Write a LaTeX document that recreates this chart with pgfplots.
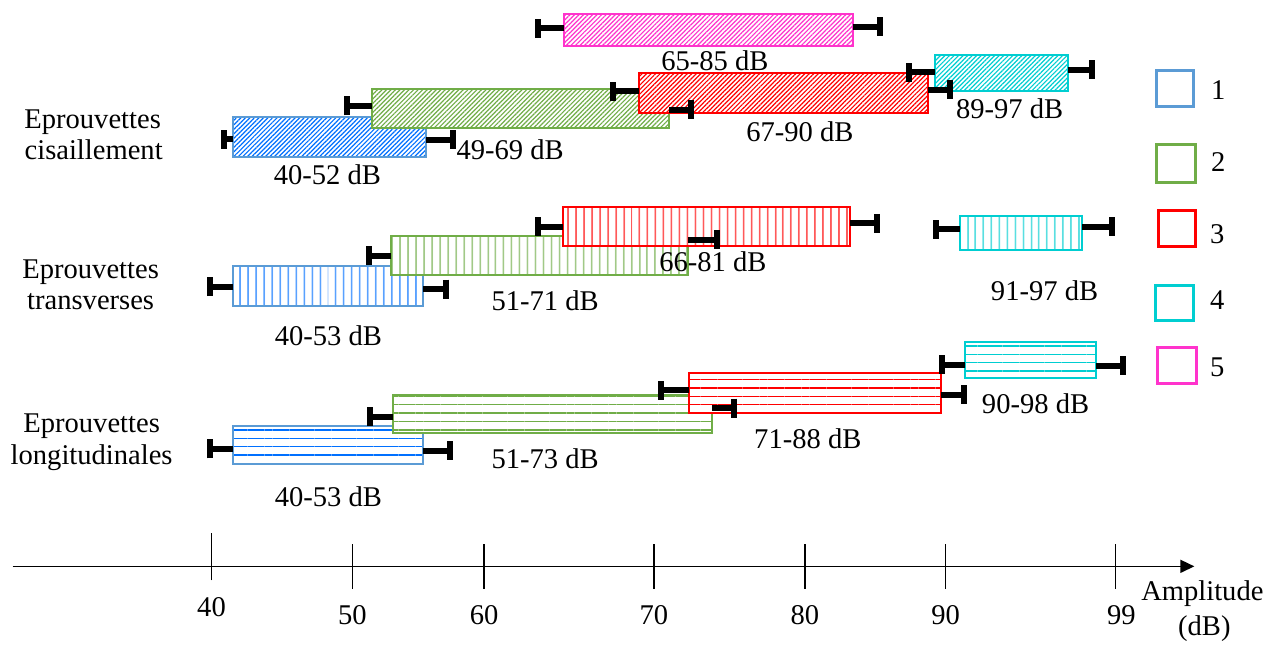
\documentclass[border=0pt]{standalone}
\usepackage{fontspec}
\setmainfont{Liberation Serif}
\usepackage{pgfplots}
\pgfplotsset{compat=1.18}
\usetikzlibrary{patterns.meta,arrows.meta}
\definecolor{bB}{RGB}{91,155,213}
\definecolor{bP}{RGB}{0,112,255}
\definecolor{gB}{RGB}{112,173,71}
\definecolor{rB}{RGB}{255,0,0}
\definecolor{cB}{RGB}{0,206,209}
\definecolor{pB}{RGB}{255,51,204}
\pgfplotsset{
  diag/.style 2 args={line width=1pt, draw=#1, preaction={fill=white}, pattern={Lines[angle=45,distance=1.6pt,line width=0.6pt]}, pattern color=#2},
  vert/.style 2 args={line width=1pt, draw=#1, preaction={fill=white}, pattern={Lines[angle=90,distance=4pt,line width=0.7pt]}, pattern color=#2},
  horz/.style 2 args={line width=1pt, draw=#1, preaction={fill=white}, pattern={Lines[angle=0,distance=4.2pt,line width=0.7pt]}, pattern color=#2},
  legbox/.style={line width=1.5pt, draw=#1, fill=white},
  ebar/.style={draw=none, mark=none,
    error bars/.cd, x dir=#1, x explicit,
    error bar style={draw=black, line width=3pt},
    error mark=|,
    error mark options={draw=black, line width=3pt, mark size=4.75pt}},
}
\begin{document}
\begin{tikzpicture}[font=\fontsize{14.3}{16}\selectfont]
\begin{axis}[
  scale only axis, width=638.5pt, height=319.5pt,
  xmin=0, xmax=1277, ymin=-72, ymax=567,
  axis x line=middle, axis y line=none, ytick=\empty,
  x axis line style={line width=0.75pt, -{Triangle[length=7pt,width=6.5pt]}, shorten <=6pt, shorten >=41pt},
  xtick={352,484,654,805,946,1116},
  xticklabels={50,60,70,80,90,\hspace{6pt}99},
  extra x ticks={211}, extra x tick labels={40},
  extra x tick style={tick style={yshift=4.75pt}, major tick length=23.5pt, xticklabel style={yshift=4.5pt}},
  major tick length=22.5pt, tick align=center,
  tick style={line width=0.75pt, black},
  xticklabel style={anchor=base, yshift=-18pt, font=\fontsize{14.3}{16}\selectfont},
  clip=false,
]
\path (rel axis cs:0,0) rectangle (rel axis cs:1,1);
% --- Eprouvettes cisaillement ---
\addplot[diag={bB}{bP}] coordinates {(233,450) (426,450) (426,410) (233,410)} -- cycle;
\addplot[diag={gB}{gB}] coordinates {(372,478) (669,478) (669,439) (372,439)} -- cycle;
\addplot[diag={rB}{rB}] coordinates {(639,494) (928,494) (928,454) (639,454)} -- cycle;
\addplot[diag={cB}{cB}] coordinates {(935,512) (1068,512) (1068,476) (935,476)} -- cycle;
\addplot[diag={pB}{pB}] coordinates {(564,553) (853,553) (853,521) (564,521)} -- cycle;
% --- Eprouvettes transverses ---
\addplot[vert={bB}{bP}] coordinates {(233,301) (423,301) (423,261) (233,261)} -- cycle;
\addplot[vert={gB}{gB}] coordinates {(391,331) (688,331) (688,292) (391,292)} -- cycle;
\addplot[vert={rB}{rB}] coordinates {(563,360) (850,360) (850,321) (563,321)} -- cycle;
\addplot[vert={cB}{cB}] coordinates {(960,351) (1083,351) (1083,317) (960,317)} -- cycle;
% --- Eprouvettes longitudinales ---
\addplot[horz={bB}{bP}] coordinates {(233,141) (423,141) (423,102) (233,102)} -- cycle;
\addplot[horz={gB}{gB}] coordinates {(393,172) (712,172) (712,133) (393,133)} -- cycle;
\addplot[horz={rB}{rB}] coordinates {(689,194) (941,194) (941,154) (689,154)} -- cycle;
\addplot[horz={cB}{cB}] coordinates {(965,225) (1097,225) (1097,189) (965,189)} -- cycle;
% --- error bars (left) ---
\addplot[ebar=minus] coordinates {
  (233,427.5) +- (9,0)
  (372,461) +- (25,0)
  (639,475.5) +- (26,0)
  (935,494.5) +- (26,0)
  (564,538.5) +- (26,0)
  (233,280) +- (24,0)
  (391,311) +- (22,0)
  (563,340) +- (25,0)
  (960,337.5) +- (24,0)
  (233,117.5) +- (24,0)
  (393,150) +- (23,0)
  (689,176.5) +- (28,0)
  (965,202) +- (23,0)
};
% --- error bars (right) ---
\addplot[ebar=plus] coordinates {
  (426,427) +- (27,0)
  (669,457) +- (22,0)
  (928,477) +- (22,0)
  (1068,497) +- (25,0)
  (853,540) +- (27,0)
  (423,277.5) +- (23,0)
  (688,327) +- (29,0)
  (850,343.5) +- (27,0)
  (1083,340) +- (30,0)
  (423,115.5) +- (27,0)
  (712,158.5) +- (22,0)
  (941,172) +- (23.5,0)
  (1097,201) +- (27,0)
};
% --- legend boxes ---
\addplot[legbox=bB] coordinates {(1157,496) (1194,496) (1194,460) (1157,460)} -- cycle;
\addplot[legbox=gB] coordinates {(1157,422) (1196,422) (1196,384) (1157,384)} -- cycle;
\addplot[legbox=rB] coordinates {(1159,356) (1196,356) (1196,320) (1159,320)} -- cycle;
\addplot[legbox=cB] coordinates {(1156,281) (1194,281) (1194,246) (1156,246)} -- cycle;
\addplot[legbox=pB] coordinates {(1158,219) (1197,219) (1197,183) (1158,183)} -- cycle;
\node[anchor=base] at (axis cs:1219,467) {1};
\node[anchor=base] at (axis cs:1219,395) {2};
\node[anchor=base] at (axis cs:1218,323) {3};
\node[anchor=base] at (axis cs:1218,257) {4};
\node[anchor=base] at (axis cs:1218,190) {5};
% --- range labels ---
\node[anchor=base] at (axis cs:715,496) {65-85 dB};
\node[anchor=base] at (axis cs:1010,448) {89-97 dB};
\node[anchor=base] at (axis cs:800,425) {67-90 dB};
\node[anchor=base] at (axis cs:510,407) {49-69 dB};
\node[anchor=base] at (axis cs:327,382) {40-52 dB};
\node[anchor=base] at (axis cs:713,295) {66-81 dB};
\node[anchor=base] at (axis cs:1045,266) {91-97 dB};
\node[anchor=base] at (axis cs:545,256) {51-71 dB};
\node[anchor=base] at (axis cs:328,221) {40-53 dB};
\node[anchor=base] at (axis cs:1036,153) {90-98 dB};
\node[anchor=base] at (axis cs:808,118) {71-88 dB};
\node[anchor=base] at (axis cs:545,98) {51-73 dB};
\node[anchor=base] at (axis cs:328,60) {40-53 dB};
% --- group labels ---
\node[anchor=base] at (axis cs:92,438) {Eprouvettes};
\node[anchor=base] at (axis cs:93,407) {cisaillement};
\node[anchor=base] at (axis cs:90,288) {Eprouvettes};
\node[anchor=base] at (axis cs:90,257) {transverses};
\node[anchor=base] at (axis cs:91,134) {Eprouvettes};
\node[anchor=base] at (axis cs:91,102) {longitudinales};
% --- axis title ---
\node[anchor=base] at (axis cs:1203,-34) {Amplitude};
\node[anchor=base] at (axis cs:1205,-69) {(dB)};
\end{axis}
\end{tikzpicture}
\end{document}
